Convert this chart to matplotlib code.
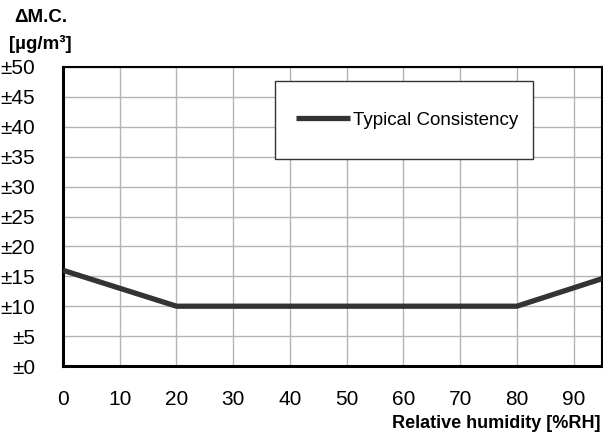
import matplotlib
matplotlib.use('Agg')
import matplotlib.pyplot as plt
from matplotlib.patches import Rectangle

plt.rcParams['font.family'] = ['Liberation Sans', 'DejaVu Sans']

# Data
humidity = [0, 20, 80, 95]
consistency = [16, 10, 10, 14.6]
x_ticks = [0, 10, 20, 30, 40, 50, 60, 70, 80, 90]
y_ticks = [0, 5, 10, 15, 20, 25, 30, 35, 40, 45, 50]
y_labels = ['±%d' % v for v in y_ticks]

W, H = 603, 437
fig = plt.figure(figsize=(W / 100, H / 100), dpi=100)
ax = fig.add_axes([63 / W, 1 - 366 / H, 539 / W, 299 / H])

ax.plot(humidity, consistency, color='#333333', lw=3.8, solid_capstyle='butt',
        label='Typical Consistency', zorder=3)

ax.set_xlim(0, 95)
ax.set_ylim(0, 50)
ax.set_xticks(x_ticks)
ax.set_yticks(y_ticks)
ax.set_yticklabels(y_labels)
ax.tick_params(length=0, labelsize=15)
ax.tick_params(axis='x', pad=17)
ax.tick_params(axis='y', pad=20)
ax.grid(True, color='#b4b4b4', lw=1)
ax.set_axisbelow(True)
for s in ax.spines.values():
    s.set_linewidth(1.5)
    s.set_color('black')
ax.spines['left'].set_linewidth(2.2)
ax.spines['bottom'].set_linewidth(2.2)

# legend box
box = Rectangle(((275 - 63) / 539, (366 - 159) / 299), 258 / 539, 78 / 299,
                transform=ax.transAxes, facecolor='white', edgecolor='#333333',
                lw=1, zorder=4)
ax.add_patch(box)
leg = ax.legend(loc='center left', bbox_to_anchor=((296 - 63) / 539, (366 - 120) / 299),
                frameon=False, fontsize=13.5, handlelength=2.9,
                handletextpad=0.15, borderpad=0, borderaxespad=0)
leg.set_zorder(5)

fig.text(41 / W, 1 - 18 / H, 'ΔM.C.', ha='center', va='center', fontsize=13.5, fontweight='bold')
fig.text(40 / W, 1 - 44 / H, '[µg/m³]', ha='center', va='center', fontsize=13.5, fontweight='bold')
fig.text(601 / W, 1 - 423 / H, 'Relative humidity [%RH]', ha='right', va='center',
         fontsize=13, fontweight='bold')

fig.savefig('out.png', dpi=100)
